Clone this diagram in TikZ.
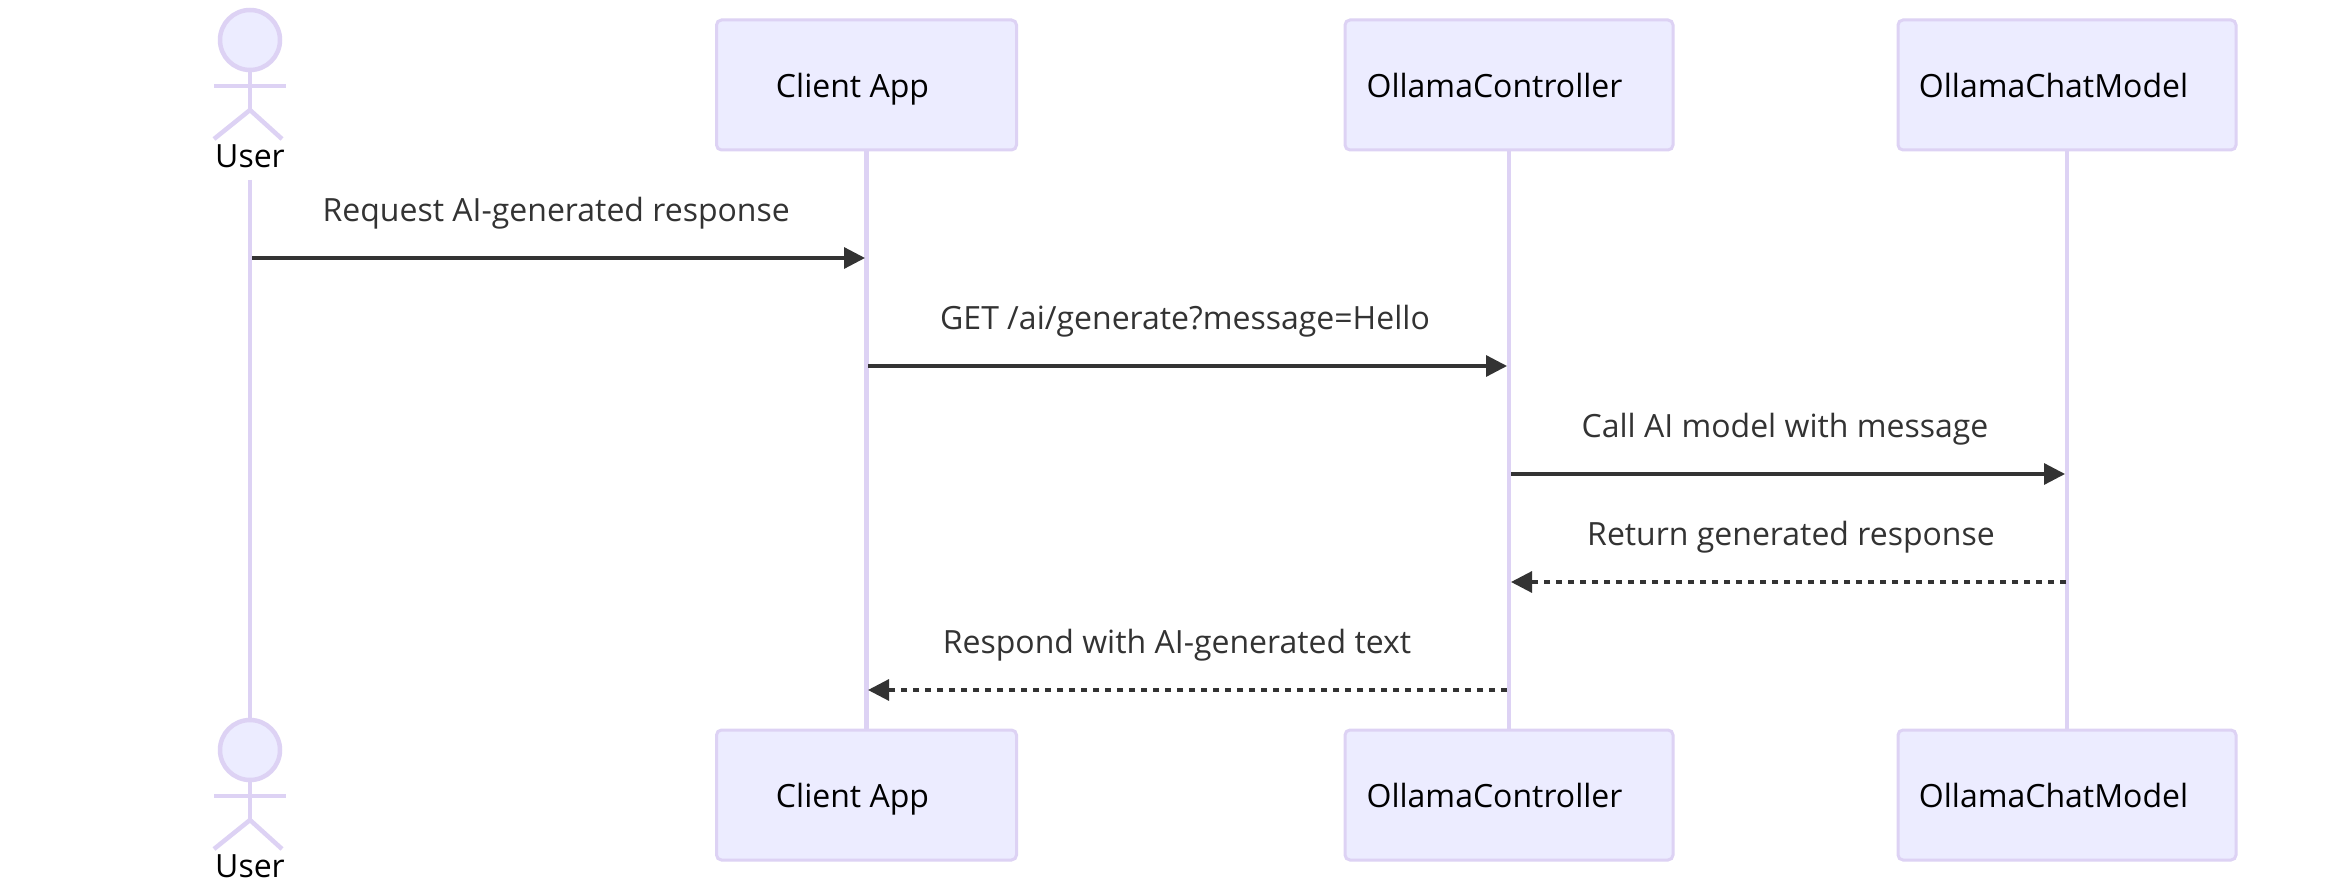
\documentclass[tikz,border=0pt]{standalone}
\usepackage{fontspec}
\setmainfont{Open Sans}
\usetikzlibrary{arrows.meta,calc}
\definecolor{lifeC}{HTML}{DDD2F4}
\definecolor{fillC}{HTML}{ECECFF}
\definecolor{msgC}{HTML}{333333}
\tikzset{
  x=1pt,y=-1pt,
  lifeline/.style={draw=lifeC,line width=4.5pt},
  actorline/.style={draw=lifeC,line width=4.5pt},
  actorhead/.style={circle,draw=lifeC,fill=fillC,line width=4.5pt,minimum size=60pt,inner sep=0pt,outer sep=0pt},
  partbox/.style={draw=lifeC,fill=fillC,line width=3pt,rounded corners=5pt,minimum height=130pt,inner sep=0pt,outer sep=0pt},
  partlabel/.style={font=\fontsize{32}{38}\selectfont,text=black,inner sep=0pt,anchor=base},
  msg/.style={draw=msgC,line width=3.2pt,-{Triangle[length=21pt,width=21pt,color=msgC]}},
  msgdash/.style={msg,dash pattern=on 6pt off 6pt},
  msglabel/.style={font=\fontsize{32}{38}\selectfont,text=msgC,inner sep=0pt,anchor=base},
}
\begin{document}
\begin{tikzpicture}
\useasboundingbox (0,0) rectangle (2336,882);
\fill[white] (0,0) rectangle (2336,882);
% boxes
\node[partbox,minimum width=300pt] (clientTop) at (866.5,85) {};
\node[partbox,minimum width=328pt] (ctrlTop) at (1509,85) {};
\node[partbox,minimum width=338pt] (chatTop) at (2067,85) {};
\node[partbox,minimum width=300pt] (clientBot) at (866.5,795) {};
\node[partbox,minimum width=328pt] (ctrlBot) at (1509,795) {};
\node[partbox,minimum width=338pt] (chatBot) at (2067,795) {};
\foreach \b/\x/\t in {clientTop/852.5/Client App,ctrlTop/1494.5/OllamaController,chatTop/2053.5/OllamaChatModel}{
  \node[partlabel] (\b L) at (\x,97.5) {\t};
}
\foreach \b/\x/\t in {clientBot/852.5/Client App,ctrlBot/1494.5/OllamaController,chatBot/2053.5/OllamaChatModel}{
  \node[partlabel] (\b L) at (\x,807.5) {\t};
}
% actors
\node[actorhead] (headTop) at (250,40) {};
\node[actorhead] (headBot) at (250,750) {};
\coordinate (hipTop) at (250,110);
\coordinate (armLTop) at (214,86);
\coordinate (armRTop) at (286,86);
\coordinate (legLTop) at (214,139);
\coordinate (legRTop) at (282,139);
\coordinate (hipBot) at (250,820);
\coordinate (armLBot) at (214,796);
\coordinate (armRBot) at (286,796);
\coordinate (legLBot) at (214,849);
\coordinate (legRBot) at (282,849);
\draw[actorline] (headTop.south) -- (hipTop);
\draw[actorline] (armLTop) -- (armRTop);
\draw[actorline] (legLTop) -- (hipTop) -- (legRTop);
\draw[actorline] (headBot.south) -- (hipBot);
\draw[actorline] (armLBot) -- (armRBot);
\draw[actorline] (legLBot) -- (hipBot) -- (legRBot);
\node[partlabel] (userTop) at (250,167.5) {User};
\node[partlabel] (userBot) at (250,877.5) {User};
% lifelines
\coordinate (userStart) at (250,180);
\draw[lifeline] (userStart) -- (headBot.north);
\draw[lifeline] (clientTop.south) -- (clientBot.north);
\draw[lifeline] (ctrlTop.south) -- (ctrlBot.north);
\draw[lifeline] (chatTop.south) -- (chatBot.north);
% message anchors
\coordinate (m1a) at (252,258);  \coordinate (m1b) at (865,258);
\coordinate (m2a) at (868,366);  \coordinate (m2b) at (1507,366);
\coordinate (m3a) at (1511,474); \coordinate (m3b) at (2065,474);
\coordinate (m4a) at (2066,582); \coordinate (m4b) at (1511,582);
\coordinate (m5a) at (1507,690); \coordinate (m5b) at (868,690);
\draw[msg] (m1a) -- (m1b);
\draw[msg] (m2a) -- (m2b);
\draw[msg] (m3a) -- (m3b);
\draw[msgdash] (m4a) -- (m4b);
\draw[msgdash] (m5a) -- (m5b);
\node[msglabel] (l1) at (556.2,221.5) {Request AI-generated response};
\node[msglabel] (l2) at (1185,329.5) {GET /ai/generate?message=Hello};
\node[msglabel] (l3) at (1785,437.5) {Call AI model with message};
\node[msglabel] (l4) at (1791,545.5) {Return generated response};
\node[msglabel] (l5) at (1177,653.5) {Respond with AI-generated text};
\end{tikzpicture}
\end{document}
